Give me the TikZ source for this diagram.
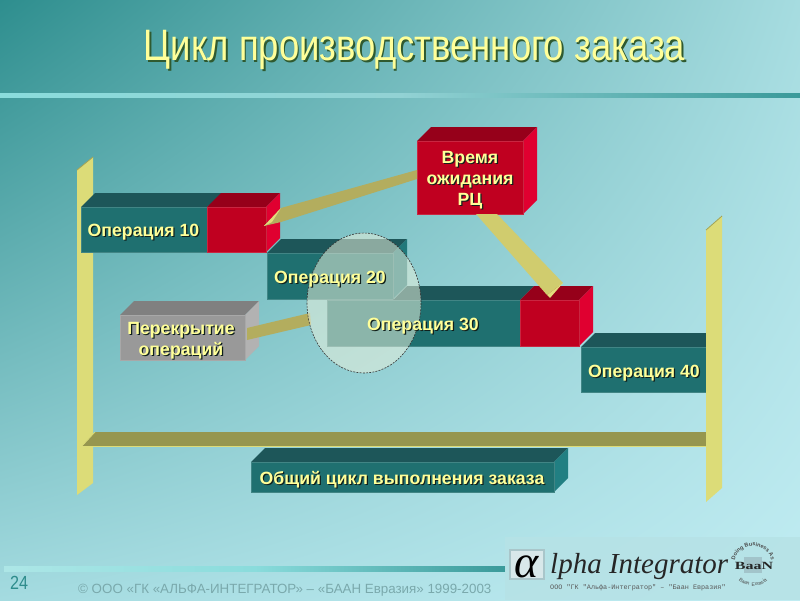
\documentclass[tikz,border=0pt]{standalone}
\usepackage{fontspec}
\setmainfont{Liberation Sans}
\newfontfamily\lserif{Liberation Serif}
\newfontfamily\lmono{Liberation Mono}
\usetikzlibrary{decorations.text,shadings,shapes.geometric}
\definecolor{yel}{HTML}{FFFF99}
\definecolor{shd}{HTML}{10201C}
\definecolor{titleshd}{HTML}{2F5A30}
\definecolor{tealF}{HTML}{1F7070}
\definecolor{tealT}{HTML}{1D5659}
\definecolor{tealR}{HTML}{217F82}
\definecolor{redF}{HTML}{C00020}
\definecolor{redT}{HTML}{96001A}
\definecolor{redR}{HTML}{E00030}
\definecolor{grayF}{HTML}{999999}
\definecolor{grayT}{HTML}{808080}
\definecolor{grayR}{HTML}{B2B2B2}
\definecolor{post}{HTML}{DCDC78}
\definecolor{postE}{HTML}{A3A355}
\definecolor{barF}{HTML}{96964F}
\definecolor{wedgeA}{HTML}{B3AD5E}
\definecolor{wedgeB}{HTML}{D0CC6E}
\definecolor{wedgeC}{HTML}{E2DC7C}
\definecolor{lineL}{HTML}{8ADCDC}
\definecolor{lineD}{HTML}{3A9A9A}
\definecolor{lineM}{HTML}{92D2D4}
\definecolor{copyc}{HTML}{7AA9AC}
\definecolor{num}{HTML}{2E8C8C}
\definecolor{bgTL}{HTML}{2E8E8E}
\definecolor{bgTR}{HTML}{A6DCE0}
\definecolor{bgBL}{HTML}{A4DBE0}
\definecolor{bgBR}{HTML}{C0ECF2}
\definecolor{panel}{HTML}{B6E2E6}
\definecolor{alphaF}{HTML}{D8E8EA}
\definecolor{alphaE}{HTML}{A9C6CA}
\definecolor{baanS}{HTML}{A2C4CA}
\newcommand\shtxt[1]{\makebox[0pt][l]{\raisebox{-1.2pt}{\hspace{1.2pt}\textcolor{shd}{#1}}}\textcolor{yel}{#1}}
\tikzset{
  lbl/.style={inner sep=0pt,align=center,font=\bfseries\fontsize{17.7}{21}\selectfont},
  frontface/.style={draw=#1!85!white,line width=0.3pt,fill=#1},
}
% front x1 x2 y1 y2, depth 14
\newcommand\boxfaces[7]{% x1,x2,y1,y2,front,top,right
  \fill[#6] (#1,#3) -- ++(14,-14) -- (#2+14,#3-14) -- (#2,#3) -- cycle;
  \fill[#7] (#2,#3) -- (#2+14,#3-14) -- (#2+14,#4-14) -- (#2,#4) -- cycle;
  \fill[frontface=#5] (#1,#3) rectangle (#2,#4);
}
\begin{document}
\begin{tikzpicture}[x=1pt,y=-1pt]
\useasboundingbox (0,0) rectangle (800,600);
\clip (0,0) rectangle (800,600);
\shade[shading=bilinear interpolation,upper left=bgTL,upper right=bgTR,lower left=bgBL,lower right=bgBR] (0,0) rectangle (800,600);
% top rule and footer rule
\shade[left color=lineL,right color=lineD,middle color=lineM] (0,93) rectangle (800,97);
\shade[left color=lineL!70!white,right color=lineD,middle color=lineL] (4,566) rectangle (505,571);
% title
\node[inner sep=0pt,anchor=base] (title) at (414.5,60.5) {\scalebox{0.83}[1]{\fontsize{44}{44}\selectfont\makebox[0pt][l]{\raisebox{-2pt}{\hspace{2pt}\textcolor{titleshd}{Цикл производственного заказа}}}\textcolor{yel}{Цикл производственного заказа}}};
% posts and bar
\fill[post] (77,170) -- (93,157) -- (93,483) -- (77,495) -- cycle;
\draw[postE,line width=0.8pt] (77,170) -- (93,157);
\fill[barF] (82,446) -- (95,432) -- (708,432) -- (708,446) -- cycle;
\draw[post,line width=0.7pt] (82,446) -- (95,432);
\draw[post,line width=0.7pt] (82,446.5) -- (708,446.5);
% Op 40
\fill[tealT] (581,347) -- (595,333) -- (706,333) -- (706,347) -- cycle;
\fill[frontface=tealF] (581,347) rectangle (706,392);
\fill[post] (706,230) -- (722,216) -- (722,488) -- (706,502) -- cycle;
\draw[postE,line width=0.8pt] (706,230) -- (722,216);
% Op 20
\boxfaces{267}{393}{253}{299}{tealF}{tealT}{tealR!55!tealF}
% Op 10
\fill[tealT] (81,207) -- (95,193) -- (225,193) -- (207,207) -- cycle;
\fill[frontface=tealF] (81,207) rectangle (207,252);
\boxfaces{207}{266}{207}{252}{redF}{redT}{redR}
% Op 30
\fill[tealT] (393,300) -- (407,286) -- (534,286) -- (520,300) -- cycle;
\fill[frontface=tealF] (327,300) rectangle (520,346);
\boxfaces{520}{579}{300}{346}{redF}{redT}{redR}
% Waiting box
\boxfaces{417}{523}{141}{214}{redF}{redT}{redR}
% Overlap box
\boxfaces{120}{245}{315}{360}{grayF}{grayT}{grayR}
% Total box
\boxfaces{251}{554}{462}{492}{tealF}{tealT}{tealR}
% wedges
\coordinate (waitL1) at (417,170);
\coordinate (waitL2) at (417,179);
\coordinate (opAa) at (281,208);
\coordinate (opAb) at (264,226);
\coordinate (opAc) at (281,222);
\coordinate (waitB1) at (476,214);
\coordinate (waitB2) at (497,214);
\coordinate (opCa) at (563,283);
\coordinate (opCb) at (550,298);
\coordinate (opCc) at (547,295);
\coordinate (ovA) at (247,328);
\coordinate (ovB) at (247,340);
\coordinate (ellA) at (310,313);
\coordinate (ellB) at (311,325);
\fill[wedgeA] (waitL1) -- (opAa) -- (opAb) -- (opAc) -- (waitL2) -- cycle;
\fill[wedgeC] (opAa) -- (opAb) -- (272,222) -- cycle;
\fill[wedgeB] (waitB1) -- (waitB2) -- (opCa) -- (opCc) -- cycle;
\fill[wedgeC] (opCc) -- (opCa) -- (opCb) -- cycle;
\fill[wedgeA] (ovA) -- (ellA) -- (ellB) -- (ovB) -- cycle;
% ellipse
\definecolor{ellc}{RGB}{232,240,220}
\node[ellipse,minimum width=114pt,minimum height=140pt,inner sep=0pt] (overlap) at (364,303) {};
\fill[ellc,fill opacity=0.54] (364,303) ellipse [x radius=57,y radius=70];
\draw[black!80,line width=0.6pt,dash pattern=on 2pt off 1.2pt] (364,303) ellipse [x radius=57,y radius=70];
% labels
\node[lbl] (op10) at (143.5,232.5) {\shtxt{Операция 10}};
\node[lbl] (op20) at (330,279.5) {\shtxt{Операция 20}};
\node[lbl] (op30) at (423,326.5) {\shtxt{Операция 30}};
\node[lbl] (op40) at (644,373.5) {\shtxt{Операция 40}};
\node[lbl] (wait) at (470,181) {\shtxt{Время}\\\shtxt{ожидания}\\\shtxt{РЦ}};
\node[lbl] (over) at (181,341) {\shtxt{Перекрытие}\\\shtxt{операций}};
\node[lbl] (total) at (402,480.5) {\shtxt{Общий цикл выполнения заказа}};
% footer
\node[inner sep=0pt,anchor=base west,text=num] (page) at (10,589) {\scalebox{0.85}[1]{\fontsize{19}{19}\selectfont 24}};
\node[inner sep=0pt,anchor=base west,text=copyc] (copy) at (78,593) {\fontsize{13.35}{14}\selectfont © ООО «ГК «АЛЬФА-ИНТЕГРАТОР» – «БААН Евразия» 1999-2003};
% logo
\fill[panel,fill opacity=0.85] (505,537) rectangle (800,600);
\fill[alphaF,draw=alphaE,line width=2pt] (510,550) rectangle (544,579);
\node[inner sep=0pt] (alpha) at (527,567) {\lserif\itshape\fontsize{46}{46}\selectfont α};
\node[inner sep=0pt,anchor=base west,text=black!85] (brand) at (550,573.5) {\lserif\itshape\fontsize{29}{29}\selectfont lpha Integrator};
\node[inner sep=0pt,anchor=base west,text=black!65] (sub) at (550,589) {\lmono\fontsize{6.8}{7}\selectfont ООО "ГК "Альфа-Интегратор" – "Баан Евразия"};
\fill[baanS] (744,557) rectangle (762,573);
\node[inner sep=0pt,text=black!85] (baan) at (754,566) {\scalebox{1.45}[1]{\lserif\bfseries\fontsize{11}{11}\selectfont BaaN}};
\path[decorate,decoration={text along path,text align=center,text={|\fontsize{5.5}{6}\bfseries\selectfont\color{black!70}|Doing Business As}}] ([shift={(185:19)}]753,565) arc[start angle=185,end angle=355,radius=19];
\path[decorate,decoration={text along path,text align=center,text={|\fontsize{5}{5}\addfontfeature{LetterSpace=25}\selectfont\color{black!70}|Baan Eurasia}}] ([shift={(160:21)}]753,565) arc[start angle=160,end angle=20,radius=21];
\end{tikzpicture}
\end{document}
